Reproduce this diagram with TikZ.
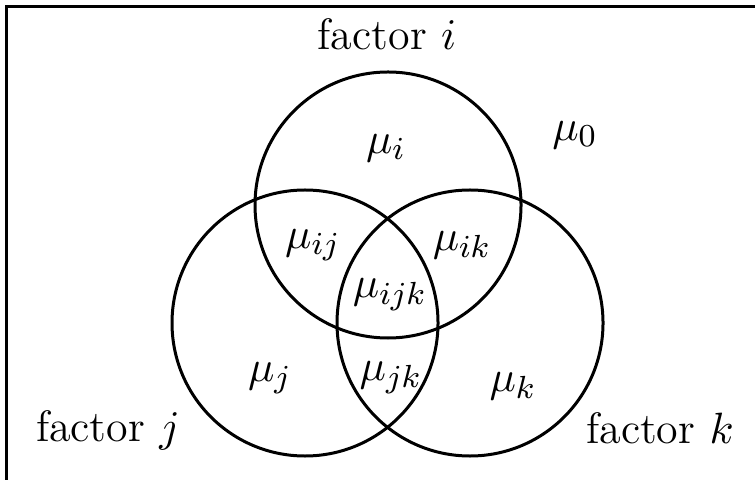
\documentclass[tikz,border=0pt]{standalone}
\usepackage{tikz}

\begin{document}
\begin{tikzpicture}[
    x=0.25pt, y=-0.25pt,
    every node/.style={font=\fontsize{11}{13}\selectfont},
    venn/.style={
      circle, draw=black, line width=0.75pt,
      minimum size=66.5pt, inner sep=0pt,
    },
    region/.style={inner sep=0pt},
  ]

  \clip (0,0) rectangle (755,479);
  \draw[line width=0.8pt] (6.5,6.5) rectangle (800,520);

  % the three factors
  \node[venn] (seti) at (388,205) {};
  \node[venn] (setj) at (305,323) {};
  \node[venn] (setk) at (470,323) {};

  \node (labi) at (387,34) {factor $i$};
  \node (labj) at (108,430) {factor $j$};
  \node (labk) at (660,428) {factor $k$};

  % effects in each region
  \node[region] (m0)   at (575,135) {$\mu_0$};
  \node[region] (mi)   at (386,148) {$\mu_i$};
  \node[region] (mij)  at (313,245) {$\mu_{ij}$};
  \node[region] (mik)  at (462,245) {$\mu_{ik}$};
  \node[region] (mijk) at (390,295) {$\mu_{ijk}$};
  \node[region] (mj)   at (270,378) {$\mu_j$};
  \node[region] (mjk)  at (391,378) {$\mu_{jk}$};
  \node[region] (mk)   at (513,386) {$\mu_k$};
\end{tikzpicture}
\end{document}
